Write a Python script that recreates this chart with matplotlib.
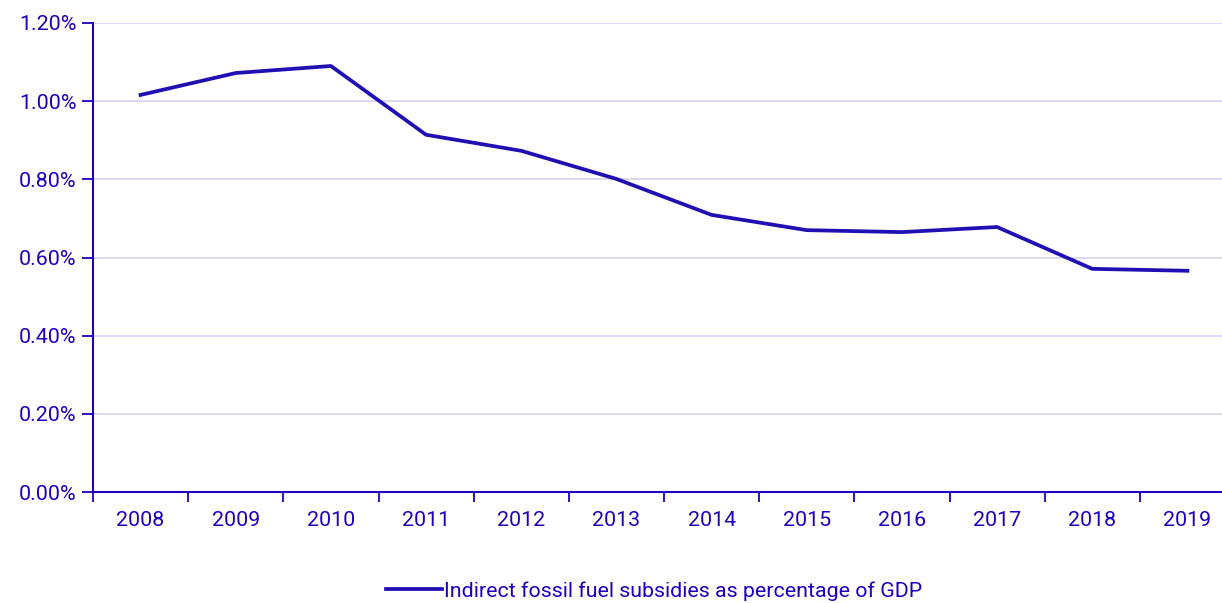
import matplotlib
matplotlib.use("Agg")
import matplotlib.pyplot as plt
from matplotlib.ticker import FuncFormatter, FixedLocator

plt.rcParams['font.family'] = ['Roboto', 'DejaVu Sans']

years = ['2008', '2009', '2010', '2011', '2012', '2013', '2014', '2015', '2016', '2017', '2018', '2019']
values = [1.016, 1.072, 1.090, 0.914, 0.873, 0.801, 0.709, 0.670, 0.665, 0.678, 0.571, 0.566]
series_name = 'Indirect fossil fuel subsidies as percentage of GDP'
yticks = [0.0, 0.2, 0.4, 0.6, 0.8, 1.0, 1.2]

TXT = '#1e00c0'
LINE = '#2010b4'
GRID = '#d4d2f0'

W, H = 1222, 603
fig = plt.figure(figsize=(W / 100, H / 100), dpi=100)
left, right, top, bottom = 93, 1235, 23, 492
ax = fig.add_axes([left / W, 1 - bottom / H, (right - left) / W, (bottom - top) / H])

x = list(range(len(years)))
ax.plot(x, values, color=LINE, lw=2.7, solid_joinstyle='round', label=series_name)

ax.set_xlim(-0.5, len(years) - 0.5)
ax.set_ylim(0, 1.2)
ax.set_yticks(yticks)
ax.yaxis.set_major_formatter(FuncFormatter(lambda v, p: f'{v:.2f}%'))
ax.set_xticks(x)
ax.set_xticklabels(years)
ax.xaxis.set_minor_locator(FixedLocator([i - 0.5 for i in range(len(years) + 1)]))
ax.tick_params(axis='x', which='major', length=0, pad=14, labelsize=15.4, labelcolor=TXT)
ax.tick_params(axis='x', which='minor', length=7, width=1.3, color=TXT, direction='out')
ax.tick_params(axis='y', length=8, width=1.3, color=TXT, labelsize=15.4, labelcolor=TXT, pad=4)

ax.grid(axis='y', color=GRID, lw=1.2)
ax.set_axisbelow(True)
for s in ['top', 'right']:
    ax.spines[s].set_visible(False)
for s in ['left', 'bottom']:
    ax.spines[s].set_color(TXT)
    ax.spines[s].set_linewidth(1.5)
ax.spines['bottom'].set_zorder(3)

leg = fig.legend(loc='center', bbox_to_anchor=(654 / W, 1 - 591 / H), frameon=False,
                 fontsize=15.4, handlelength=2.6, handletextpad=0.1, labelcolor=TXT)

fig.savefig('out.png', dpi=100)
